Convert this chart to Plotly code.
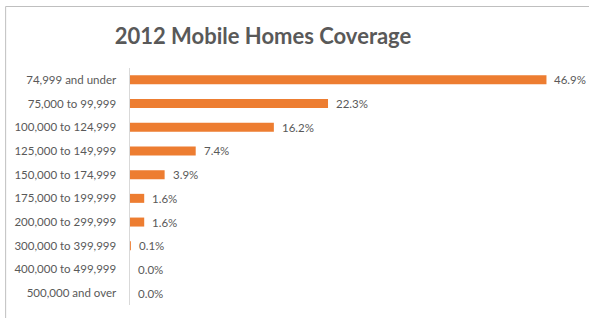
import plotly.graph_objects as go

categories = ["74,999 and under", "75,000 to 99,999", "100,000 to 124,999",
              "125,000 to 149,999", "150,000 to 174,999", "175,000 to 199,999",
              "200,000 to 299,999", "300,000 to 399,999", "400,000 to 499,999",
              "500,000 and over"]
values = [46.9, 22.3, 16.2, 7.4, 3.9, 1.6, 1.6, 0.1, 0.0, 0.0]
title_text = "2012 Mobile Homes Coverage"

W, H = 589, 318
L, R, T, B = 130, 14.5, 68, 13
pw, ph = W - L - R, H - T - B

fig = go.Figure()
fig.add_trace(go.Bar(
    x=values, y=categories, orientation="h",
    marker=dict(color="#ED7D31", line=dict(width=0)),
    hoverinfo="skip",
))

annotations = []
for c, v in zip(categories, values):
    annotations.append(dict(
        x=v, y=c, xref="x", yref="y", text=f"{v:.1f}%", showarrow=False,
        xanchor="left", xshift=6, font=dict(family="Lato", size=11.5, color="#595959"),
    ))

fx = (5.5 - L) / pw
fy = 1 + (T - 6.5) / ph
shapes = [
    dict(type="line", xref="paper", yref="paper", x0=fx, x1=fx, y0=-0.2, y1=fy,
         line=dict(color="#bfbfbf", width=1)),
    dict(type="line", xref="paper", yref="paper", x0=fx, x1=1.2, y0=fy, y1=fy,
         line=dict(color="#bfbfbf", width=1)),
]

fig.update_layout(
    width=W, height=H,
    margin=dict(l=L, r=R, t=T, b=B, pad=0),
    paper_bgcolor="white", plot_bgcolor="white",
    bargap=0.62,
    showlegend=False,
    title=dict(text=f"<b>{title_text}</b>", x=263 / W, xanchor="center",
               y=1 - 36 / H, yanchor="middle",
               font=dict(family="Lato", size=22, color="#595959")),
    xaxis=dict(range=[0, 50], showgrid=False, zeroline=False, showticklabels=False,
               showline=False, fixedrange=True),
    yaxis=dict(autorange="reversed", showgrid=False, zeroline=False,
               showline=True, linecolor="#d9d9d9", linewidth=1.5,
               ticks="", ticklabelstandoff=10, fixedrange=True,
               tickfont=dict(family="Lato", size=11.5, color="#595959")),
    annotations=annotations,
    shapes=shapes,
    font=dict(family="Lato"),
)

fig.write_html("out.html", config={"displayModeBar": False, "staticPlot": True},
               post_script="document.body.style.margin='0';document.body.style.overflow='hidden';")
